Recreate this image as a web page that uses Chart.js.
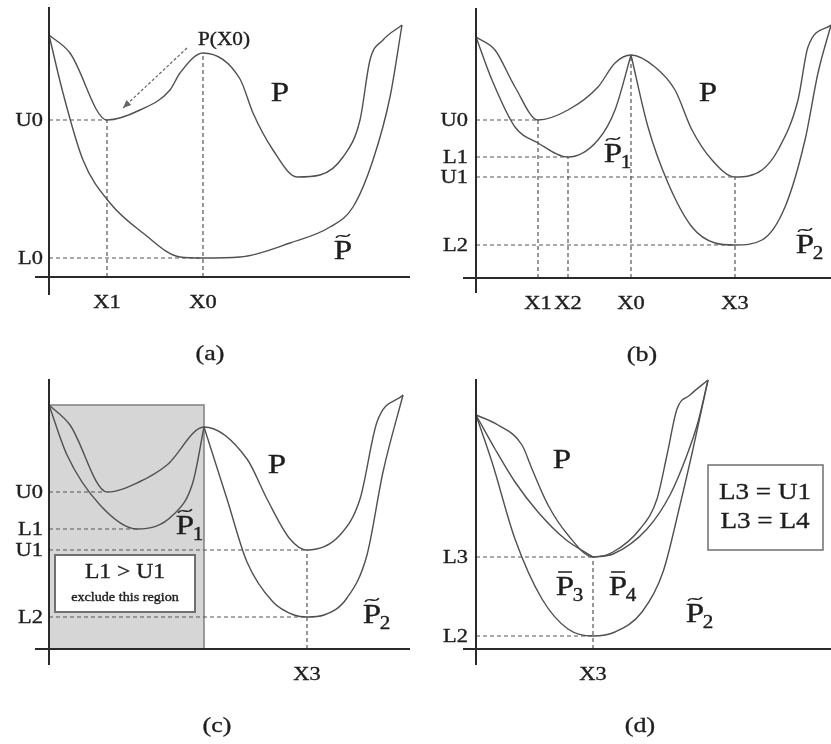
<!DOCTYPE html>
<html><head><meta charset="utf-8">
<script src="https://cdn.jsdelivr.net/npm/chart.js@4"></script>
<style>
html,body{margin:0;padding:0;background:#fff;}
body{width:831px;height:744px;position:relative;overflow:hidden;}
canvas{position:absolute;}
</style></head>
<body>
<canvas id="pa" width="415" height="372" style="left:0;top:0"></canvas>
<canvas id="pb" width="416" height="372" style="left:415px;top:0"></canvas>
<canvas id="pc" width="415" height="372" style="left:0;top:372px"></canvas>
<canvas id="pd" width="416" height="372" style="left:415px;top:372px"></canvas>
<script>
// ---------- Panel (a) ----------
const aTicksX = { X1: 58, X0: 154 };
const aTicksY = { U0: 157, L0: 19 };
const aPeak = 224;
const aP  = [[0,242],[21,224],[58,157],[91,167],[121,187],[131,204],[154,224],[191,198],[204,164],[224,127],[248,100],[271,102],[294,120],[311,157],[321,217],[334,237],[353,252]];
const aPt = [[0,242],[14,184],[34,117],[61,74],[94,44],[131,20],[154,19],[191,20],[241,34],[281,50],[304,70],[324,117],[341,180],[353,252]];

// ---------- Panel (b) ----------
const bTicksX = { X1: 62, X2: 92, X0: 155, X3: 259 };
const bTicksY = { U0: 158, L1: 121, U1: 101, L2: 33 };
const bPeak = 223;
const bP  = [[0,241],[19,228],[39,191],[62,158],[92,168],[122,191],[139,215],[155,223],[179,211],[199,188],[216,148],[236,118],[259,101],[286,108],[302,128],[322,178],[332,231],[355,253]];
const bP1 = [[0,241],[16,198],[39,151],[62,135],[92,121],[122,138],[139,168],[155,223]];
const bP2 = [[155,223],[172,151],[192,95],[216,51],[239,35],[259,33],[286,38],[309,71],[329,138],[342,205],[355,253]];

// ---------- Panel (c) ----------
const cTicksX = { X3: 258 };
const cTicksY = { U0: 157, L1: 120, U1: 99, L2: 32 };
const cMinX = { X1: 56, X2: 88, X0: 155 };
const cP  = [[0,244],[21,224],[58,157],[90,167],[118,184],[155,222],[198,190],[218,150],[241,110],[258,99],[291,114],[311,150],[328,227],[354,254]];
const cP1 = [[0,244],[18,194],[51,144],[88,120],[124,134],[144,167],[155,222]];
const cP2 = [[155,222],[178,150],[198,87],[224,47],[245,34],[258,32],[275,34],[298,51],[318,94],[334,177],[354,254]];
const cRegion = [[0,0],[0,244],[155,244],[155,0]];

// ---------- Panel (d) ----------
const dTicksX = { X3: 117 };
const dTicksY = { L3: 92, L2: 13 };
const dP  = [[0,234],[22,224],[46,204],[56,180],[72,144],[92,114],[117,92],[137,97],[164,120],[181,150],[191,194],[201,240],[214,254],[232,269]];
const dP3 = [[0,234],[19,200],[39,167],[62,137],[89,110],[117,92]];
const dP4 = [[117,92],[137,95],[171,120],[194,154],[211,194],[222,227],[232,269]];
const dP2 = [[0,234],[16,187],[39,110],[66,50],[92,20],[117,13],[139,17],[166,37],[187,77],[204,144],[217,200],[232,269]];

const FONT = '"Liberation Serif", "Times New Roman", serif';
const STRETCH = 1.18;
const CURVE = '#505050', AXIS = '#2a2a2a', DASH = '#555', TEXT = '#1e1e1e';
const TEXT_STROKE = 0.35;

function capText(ctx, s, x, y, size, align) {
  ctx.save();
  ctx.font = size + 'px ' + FONT;
  ctx.fillStyle = TEXT; ctx.strokeStyle = TEXT; ctx.lineWidth = TEXT_STROKE;
  ctx.textAlign = align || 'center';
  ctx.textBaseline = 'alphabetic';
  ctx.translate(x, y + size * 0.33);
  ctx.scale(STRETCH, 1);
  ctx.fillText(s, 0, 0);
  ctx.strokeText(s, 0, 0);
  ctx.restore();
}
function accP(ctx, cx, cy, size, accent, sub) {
  const cap = size * 0.66;
  ctx.save();
  ctx.fillStyle = TEXT; ctx.strokeStyle = TEXT;
  ctx.font = size + 'px ' + FONT;
  ctx.textAlign = 'center'; ctx.textBaseline = 'alphabetic';
  ctx.translate(cx, cy + cap / 2);
  ctx.scale(STRETCH, 1);
  ctx.lineWidth = TEXT_STROKE;
  ctx.fillText('P', 0, 0);
  ctx.strokeText('P', 0, 0);
  const w = ctx.measureText('P').width;
  const ya = -cap - size * 0.17;
  const aw = size * 0.42;
  ctx.lineWidth = size * 0.055;
  ctx.beginPath();
  if (accent === 'tilde') {
    const h = size * 0.06, x0 = -aw / 2;
    ctx.moveTo(x0, ya + h);
    ctx.bezierCurveTo(x0 + aw * 0.35, ya - 2.4 * h, x0 + aw * 0.65, ya + 2.4 * h, x0 + aw, ya - h);
  } else {
    ctx.moveTo(-aw / 2, ya); ctx.lineTo(aw / 2, ya);
  }
  ctx.stroke();
  if (sub) {
    ctx.font = (size * 0.64) + 'px ' + FONT;
    ctx.textAlign = 'left';
    ctx.lineWidth = TEXT_STROKE;
    ctx.fillText(sub, w / 2 - size * 0.04, size * 0.22);
    ctx.strokeText(sub, w / 2 - size * 0.04, size * 0.22);
  }
  ctx.restore();
}
function box(ctx, x0, y0, x1, y1, lw, col) {
  ctx.save();
  ctx.fillStyle = '#fff'; ctx.strokeStyle = col; ctx.lineWidth = lw;
  ctx.fillRect(x0, y1, x1 - x0, y0 - y1);
  ctx.strokeRect(x0, y1, x1 - x0, y0 - y1);
  ctx.restore();
}

function mk(id, spec) {
  const L = (pts, o) => Object.assign({
    data: pts.map(p => ({ x: p[0], y: p[1] })), showLine: true, pointRadius: 0, pointHoverRadius: 0,
    borderColor: CURVE, borderWidth: 1.4, fill: false, tension: 0
  }, o || {});
  const ds = [];
  ds.push(L([[spec.ax[0], 0], [spec.ax[1], 0]], { borderColor: AXIS, borderWidth: 2, order: 0 }));
  ds.push(L([[0, spec.ay[0]], [0, spec.ay[1]]], { borderColor: AXIS, borderWidth: 2, order: 0 }));
  spec.curves.forEach(c => ds.push(L(c, { cubicInterpolationMode: 'monotone', order: 1 })));
  const dash = { borderColor: DASH, borderWidth: 1.2, borderDash: [4, 3], order: 2 };
  spec.h.forEach(([y, x]) => ds.push(L([[0, y], [x, y]], dash)));
  spec.v.forEach(([x, y]) => ds.push(L([[x, 0], [x, y]], dash)));
  if (spec.region) ds.push(L(spec.region, { fill: 'origin', backgroundColor: '#d6d6d6', borderColor: '#808080', borderWidth: 1.5, order: 9 }));
  new Chart(document.getElementById(id), {
    type: 'line',
    data: { datasets: ds },
    options: {
      responsive: false, animation: false, events: [],
      layout: { padding: 0 },
      plugins: { legend: { display: false }, tooltip: { enabled: false } },
      scales: {
        x: { type: 'linear', display: false, min: spec.xr[0], max: spec.xr[1] },
        y: { type: 'linear', display: false, min: spec.yr[0], max: spec.yr[1] }
      }
    },
    plugins: [{
      id: 'labels',
      afterDatasetsDraw(chart) {
        const ctx = chart.ctx;
        const X = v => chart.scales.x.getPixelForValue(v);
        const Y = v => chart.scales.y.getPixelForValue(v);
        Object.entries(spec.tx).forEach(([k, v]) => capText(ctx, k, X(v), Y(-25), 19, 'center'));
        Object.entries(spec.ty).forEach(([k, v]) => capText(ctx, k, X(spec.tyx), Y(v), 19, 'right'));
        capText(ctx, spec.caption[0], X(spec.caption[1]), Y(-76), 22, 'center');
        spec.labels(ctx, X, Y);
      }
    }]
  });
}

mk('pa', {
  xr: [-49, 366], yr: [-95, 277], ax: [-14, 361], ay: [-18, 270],
  curves: [aP, aPt],
  h: [[aTicksY.U0, aTicksX.X1], [aTicksY.L0, aTicksX.X0]],
  v: [[aTicksX.X1, aTicksY.U0], [aTicksX.X0, aPeak]],
  tx: aTicksX, ty: aTicksY, tyx: -6, caption: ['(a)', 161],
  labels(ctx, X, Y) {
    capText(ctx, 'P(X0)', X(175), Y(238), 18, 'center');
    capText(ctx, 'P', X(231), Y(185), 28, 'center');
    accP(ctx, X(294), Y(27), 28, 'tilde', '');
    const x0 = X(138), y0 = Y(229), x1 = X(74), y1 = Y(169);
    ctx.save();
    ctx.strokeStyle = '#666'; ctx.fillStyle = '#666'; ctx.lineWidth = 1.2; ctx.setLineDash([3, 2]);
    ctx.beginPath(); ctx.moveTo(x0, y0); ctx.lineTo(x1, y1); ctx.stroke();
    ctx.setLineDash([]);
    const a = Math.atan2(y1 - y0, x1 - x0), len = 8, hw = 3.5;
    ctx.beginPath();
    ctx.moveTo(x1, y1);
    ctx.lineTo(x1 - len * Math.cos(a) + hw * Math.sin(a), y1 - len * Math.sin(a) - hw * Math.cos(a));
    ctx.lineTo(x1 - len * Math.cos(a) - hw * Math.sin(a), y1 - len * Math.sin(a) + hw * Math.cos(a));
    ctx.closePath(); ctx.fill();
    ctx.restore();
  }
});

mk('pb', {
  xr: [-61, 355], yr: [-94, 278], ax: [-13, 355], ay: [-15, 270],
  curves: [bP, bP1, bP2],
  h: [[bTicksY.U0, bTicksX.X1], [bTicksY.L1, bTicksX.X2], [bTicksY.U1, bTicksX.X3], [bTicksY.L2, bTicksX.X3]],
  v: [[bTicksX.X1, bTicksY.U0], [bTicksX.X2, bTicksY.L1], [bTicksX.X0, bPeak], [bTicksX.X3, bTicksY.U1]],
  tx: bTicksX, ty: bTicksY, tyx: -8, caption: ['(b)', 166],
  labels(ctx, X, Y) {
    capText(ctx, 'P', X(232), Y(186), 28, 'center');
    accP(ctx, X(137), Y(125), 28, 'tilde', '1');
    accP(ctx, X(329), Y(34), 28, 'tilde', '2');
  }
});

mk('pc', {
  xr: [-49, 366], yr: [-95, 277], ax: [-14, 361], ay: [-16, 270],
  curves: [cP, cP1, cP2], region: cRegion,
  h: [[cTicksY.U0, cMinX.X1], [cTicksY.L1, cMinX.X2], [cTicksY.U1, cTicksX.X3], [cTicksY.L2, cTicksX.X3]],
  v: [[cTicksX.X3, cTicksY.U1]],
  tx: cTicksX, ty: cTicksY, tyx: -6, caption: ['(c)', 168],
  labels(ctx, X, Y) {
    capText(ctx, 'P', X(228), Y(185), 28, 'center');
    accP(ctx, X(136), Y(124), 28, 'tilde', '1');
    accP(ctx, X(323), Y(35), 28, 'tilde', '2');
    box(ctx, X(6), Y(37), X(146), Y(94), 2, '#707070');
    capText(ctx, 'L1 > U1', X(76), Y(78), 20, 'center');
    capText(ctx, 'exclude this region', X(76), Y(52), 12, 'center');
  }
});

mk('pd', {
  xr: [-61, 355], yr: [-95, 277], ax: [-13, 355], ay: [-16, 270],
  curves: [dP, dP3, dP4, dP2],
  h: [[dTicksY.L3, dTicksX.X3], [dTicksY.L2, dTicksX.X3]],
  v: [[dTicksX.X3, dTicksY.L3]],
  tx: dTicksX, ty: dTicksY, tyx: -8, caption: ['(d)', 164],
  labels(ctx, X, Y) {
    capText(ctx, 'P', X(86), Y(190), 28, 'center');
    accP(ctx, X(89), Y(63), 28, 'bar', '3');
    accP(ctx, X(142), Y(63), 28, 'bar', '4');
    accP(ctx, X(219), Y(36), 28, 'tilde', '2');
    box(ctx, X(232), Y(99), X(347), Y(184), 1.6, '#777');
    capText(ctx, 'L3 = U1', X(289), Y(158), 23, 'center');
    capText(ctx, 'L3 = L4', X(289), Y(129), 23, 'center');
  }
});
</script>
</body></html>
